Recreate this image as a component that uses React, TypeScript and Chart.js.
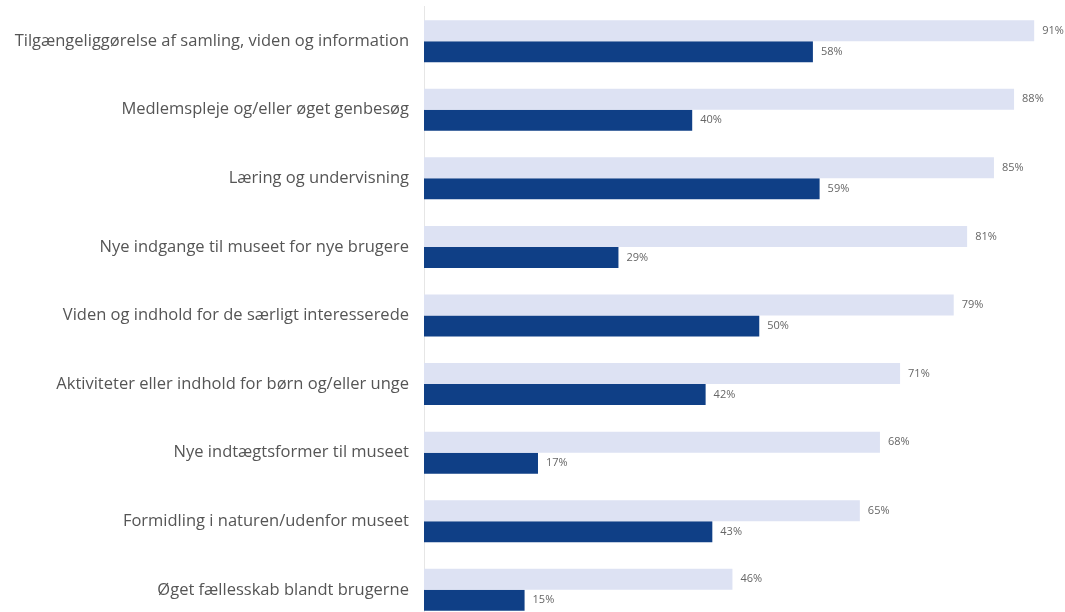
import React, { useEffect, useRef } from "react";
import { Chart, registerables } from "chart.js";

Chart.register(...registerables);

const categories = [
  "Tilgængeliggørelse af samling, viden og information",
  "Medlemspleje og/eller øget genbesøg",
  "Læring og undervisning",
  "Nye indgange til museet for nye brugere",
  "Viden og indhold for de særligt interesserede",
  "Aktiviteter eller indhold for børn og/eller unge",
  "Nye indtægtsformer til museet",
  "Formidling i naturen/udenfor museet",
  "Øget fællesskab blandt brugerne",
];
const seriesLight = [91, 88, 85, 81, 79, 71, 68, 65, 46];
const seriesDark = [58, 40, 59, 29, 50, 42, 17, 43, 15];

const valueLabels = {
  id: "valueLabels",
  afterDatasetsDraw(chart: any) {
    const ctx = chart.ctx;
    ctx.save();
    ctx.font = "11px 'Open Sans', sans-serif";
    ctx.fillStyle = "#666";
    ctx.textAlign = "left";
    ctx.textBaseline = "middle";
    chart.data.datasets.forEach((ds: any, di: number) => {
      const meta = chart.getDatasetMeta(di);
      meta.data.forEach((bar: any, i: number) => {
        ctx.fillText(ds.data[i] + "%", bar.x + 8, bar.y);
      });
    });
    ctx.restore();
  },
};

export default function App() {
  const ref = useRef<HTMLCanvasElement>(null);
  useEffect(() => {
    if (!ref.current) return;
    const chart = new Chart(ref.current, {
      type: "bar",
      data: {
        labels: categories,
        datasets: [
          { data: seriesLight, backgroundColor: "#dde2f3", borderWidth: 0 },
          { data: seriesDark, backgroundColor: "#0f3f86", borderWidth: 0 },
        ],
      },
      options: {
        indexAxis: "y",
        responsive: false,
        animation: false,
        layout: { autoPadding: false, padding: { top: 7, bottom: 16, left: 0, right: 4 } },
        datasets: { bar: { categoryPercentage: 0.612, barPercentage: 1 } },
        plugins: { legend: { display: false }, tooltip: { enabled: false } },
        scales: {
          x: { display: false, min: 0, max: 95 },
          y: {
            grid: { display: false, drawTicks: false },
            border: { display: true, color: "#e6e6e6", width: 1 },
            ticks: {
              padding: 15,
              color: "#555",
              font: { family: "'Open Sans', sans-serif", size: 16.5 },
            },
            afterFit(scale: any) {
              scale.width = 424;
            },
          },
        },
      } as any,
      plugins: [valueLabels],
    });
    return () => chart.destroy();
  }, []);
  return (
    <div style={{ position: "fixed", left: 0, top: 0, width: 1065, height: 612, overflow: "hidden", background: "#fff" }}>
      <canvas ref={ref} width={1065} height={667} style={{ position: "absolute", left: 0, top: -18 }} />
    </div>
  );
}
